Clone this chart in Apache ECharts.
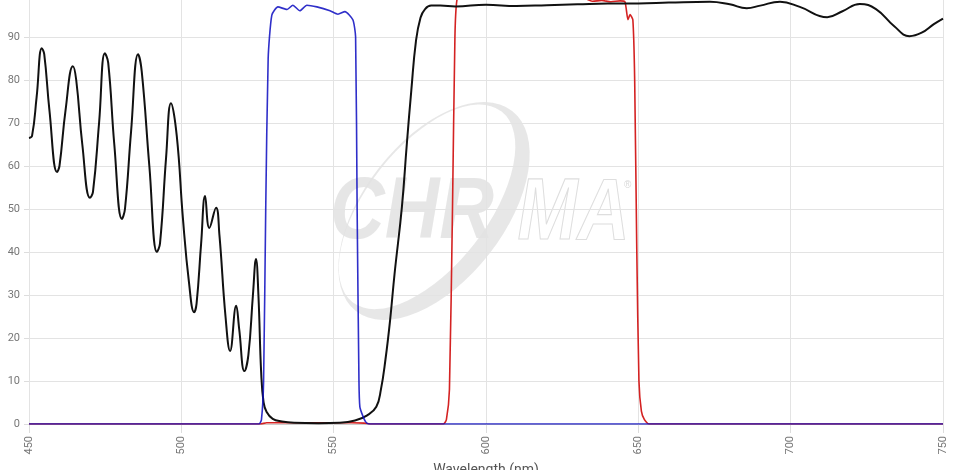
<!DOCTYPE html>
<html>
<head>
<meta charset="utf-8">
<script src="https://cdn.jsdelivr.net/npm/echarts@6/dist/echarts.min.js"></script>
<style>
  html, body { margin: 0; padding: 0; background: #fff; }
  #chart { width: 957px; height: 470px; }
</style>
</head>
<body>
<div id="chart"></div>
<script>
// x axis ticks
const xTicks = [450, 500, 550, 600, 650, 700, 750]
const yTicks = [0, 10, 20, 30, 40, 50, 60, 70, 80, 90, 100]

// black curve (emission / transmission spectrum)
const blackNm = [450, 451, 452.5, 454.2, 455, 456.7, 459.2, 460, 462, 464.4, 465.5, 467.5, 470, 471, 473, 474.9, 476, 478, 480.5, 481.5, 483.5, 485.8, 487, 489.5, 492, 493, 495, 496.6, 498.5, 500.5, 502.5, 504.2, 505, 506.5, 507.8, 509.2, 511.4, 512.5, 514.5, 516, 518, 519, 520.7, 522, 523.5, 524.5, 525.3, 526.2, 527, 528, 530, 533, 537, 545, 552, 557, 561, 564, 565.5, 567, 568.5, 570, 572.4, 574, 575.5, 577, 578.5, 580, 582, 585, 590, 600, 610, 620, 630, 640, 650, 660, 673.5, 680, 685.6, 690, 696.5, 703, 712, 717, 722.7, 728, 734, 739, 743, 747, 750]
const blackT = [66.5, 67, 76, 87.4, 86, 73, 58.6, 60, 73, 83.2, 80, 65, 52.6, 54, 70, 86.2, 84, 65, 47.7, 50, 68, 86, 82, 60, 40, 42, 62, 74.6, 67, 48, 33, 26, 28, 42, 53, 45.6, 50.3, 44, 25, 17, 27.5, 22, 12.3, 16, 30, 38.4, 30, 12, 5, 2.8, 1.2, 0.6, 0.3, 0.2, 0.3, 0.8, 2, 4, 8, 15, 24, 35, 50.5, 65, 77.7, 89, 94.5, 96.5, 97.3, 97.3, 97.1, 97.5, 97.2, 97.4, 97.6, 97.8, 97.8, 98, 98.2, 97.6, 96.7, 97.3, 98.2, 97, 94.6, 96, 97.7, 96.5, 92.5, 90.2, 91, 93, 94.3]

// blue band (excitation filter)
const blueNm = [450, 525.5, 526.3, 527, 527.7, 528.5, 529.7, 531.7, 534.7, 536.6, 538.9, 541.2, 544.5, 548.8, 551.4, 553.7, 556.3, 557.2, 557.7, 558.3, 558.6, 559.5, 560.5, 561.5, 750]
const blueT = [0, 0, 1, 10, 50, 85, 95.1, 97, 96.4, 97.4, 96.1, 97.4, 97, 96.1, 95.3, 95.9, 94, 90, 50, 10, 4, 2, 0.5, 0, 0]

// red band (emission filter)
const redNm = [450, 526, 528, 540, 556, 560, 562, 586, 587, 588, 589, 589.8, 590.5, 592, 600, 610, 620, 630, 633, 635, 638, 641, 644, 645.6, 646.6, 647.3, 648.2, 648.8, 649.5, 650.2, 651, 652, 653.5, 750]
const redT = [0, 0, 0.3, 0.3, 0.3, 0.2, 0, 0, 1, 8, 50, 90, 98.8, 99.3, 99.5, 99.3, 99.5, 99.2, 98.8, 98.3, 98.5, 98.2, 98.4, 98.2, 94, 95.2, 94, 80, 40, 10, 3, 1, 0, 0]

const pairs = (xs, ys) => xs.map((x, i) => [x, ys[i]])

// swoosh of the logo watermark (tilted crescent)
const swoosh = 'data:image/svg+xml;charset=utf-8,' + encodeURIComponent(
  '<svg xmlns="http://www.w3.org/2000/svg" width="300" height="300">' +
  '<g transform="rotate(-52 150 150)">' +
  '<path fill="#e2e2e2" fill-rule="evenodd" d="M23,150 a127,70 0 1,0 254,0 a127,70 0 1,0 -254,0 Z ' +
  'M28,142 a121,60 0 1,0 242,0 a121,60 0 1,0 -242,0 Z"/></g></svg>')

const chart = echarts.init(document.getElementById('chart'))
chart.setOption({
  animation: false,
  backgroundColor: '#fff',
  grid: { left: 29, right: 14, top: -6, bottom: 46, outerBoundsMode: 'none', containLabel: false },
  graphic: [
    { type: 'image', z: -10, silent: true, left: 284, top: 61,
      style: { image: swoosh, width: 300, height: 300, opacity: 0.8 } },
    { type: 'text', z: -10, silent: true, left: 330, top: 170,
      scaleX: 0.86,
      style: { text: 'CHR', font: 'italic bold 88px "Liberation Sans"', fill: '#e2e2e2', opacity: 0.85 } },
    { type: 'text', z: -10, silent: true, left: 517, top: 170,
      scaleX: 0.82,
      style: { text: 'MA', font: 'italic bold 88px "Liberation Sans"', fill: 'rgba(255,255,255,0)', stroke: '#dedede', lineWidth: 1.2 } },
    { type: 'text', z: -10, silent: true, left: 624, top: 180,
      style: { text: '®', font: '10px "Liberation Sans"', fill: '#d8d8d8' } }
  ],
  xAxis: {
    type: 'value',
    min: xTicks[0],
    max: xTicks[xTicks.length - 1],
    interval: 50,
    name: 'Wavelength (nm)',
    nameLocation: 'middle',
    nameGap: 39,
    nameTextStyle: { color: '#555', fontSize: 14, fontFamily: 'Roboto' },
    axisLine: { lineStyle: { color: '#ccc' } },
    axisTick: { show: true, length: 9, lineStyle: { color: '#ddd' } },
    axisLabel: { rotate: 90, margin: 12, color: '#777', fontSize: 11, fontFamily: 'Roboto' },
    splitLine: { show: true, lineStyle: { color: '#e3e3e3' } }
  },
  yAxis: {
    type: 'value',
    min: yTicks[0],
    max: yTicks[yTicks.length - 1],
    interval: 10,
    axisLine: { show: false },
    axisTick: { show: true, length: 5, lineStyle: { color: '#ddd' } },
    axisLabel: { color: '#777', fontSize: 11, margin: 9, fontFamily: 'Roboto' },
    splitLine: { lineStyle: { color: '#e3e3e3' } }
  },
  series: [
    {
      name: 'Emission', type: 'line', data: pairs(redNm, redT),
      showSymbol: false, smooth: 0.2, clip: true,
      lineStyle: { color: '#d42222', width: 1.6 }
    },
    {
      name: 'Spectrum', type: 'line', data: pairs(blackNm, blackT),
      showSymbol: false, smooth: 0.45, clip: true,
      lineStyle: { color: '#111', width: 2 }
    },
    {
      name: 'Excitation', type: 'line', data: pairs(blueNm, blueT),
      showSymbol: false, smooth: 0.2, clip: true,
      lineStyle: { color: '#0a0ac0', width: 1.6, opacity: 0.85 }
    }
  ]
})
</script>
</body>
</html>
